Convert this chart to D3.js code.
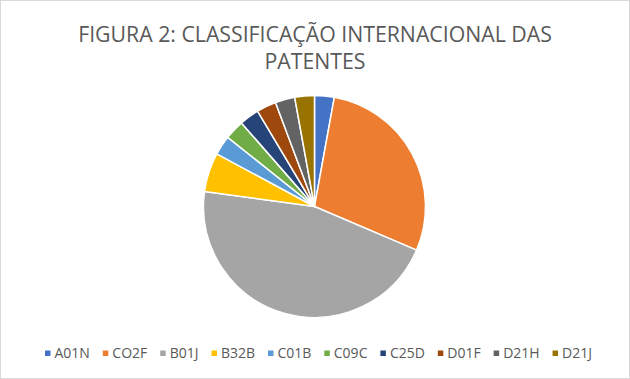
<!DOCTYPE html>
<html>
<head>
<meta charset="utf-8">
<script src="https://cdn.jsdelivr.net/npm/d3@7/dist/d3.min.js"></script>
<style>
  body { margin: 0; background: #fff; }
  svg { display: block; }
</style>
</head>
<body>
<div id="chart"></div>
<script>
// values
var categories = ["A01N", "CO2F", "B01J", "B32B", "C01B", "C09C", "C25D", "D01F", "D21H", "D21J"];
var counts = [1, 10, 16, 2, 1, 1, 1, 1, 1, 1];
var colors = ["#4472C4", "#ED7D31", "#A5A5A5", "#FFC000", "#5B9BD5", "#70AD47", "#264478", "#9E480E", "#636363", "#997300"];
var titleLines = ["FIGURA 2: CLASSIFICAÇÃO INTERNACIONAL DAS", "PATENTES"];

var width = 630, height = 379;
var font = "'Open Sans', 'Noto Sans', sans-serif";

var svg = d3.select("#chart")
    .append("svg")
      .attr("width", width)
      .attr("height", height);

svg.append("rect")
    .attr("x", 0.5)
    .attr("y", 0.5)
    .attr("width", width - 1)
    .attr("height", height - 1)
    .attr("fill", "#fff")
    .attr("stroke", "#d9d9d9");

// title, font size tuned so line 1 spans roughly the same width as the reference
var title = svg.append("g").attr("class", "title");
var t1 = title.append("text")
    .attr("x", width / 2)
    .attr("y", 42)
    .attr("text-anchor", "middle")
    .style("font-family", font)
    .style("font-size", "20px")
    .attr("fill", "#595959")
    .text(titleLines[0]);
var fs = 20 * 474 / t1.node().getComputedTextLength();
t1.style("font-size", fs + "px");
title.append("text")
    .attr("x", width / 2)
    .attr("y", 69)
    .attr("text-anchor", "middle")
    .style("font-family", font)
    .style("font-size", fs + "px")
    .attr("fill", "#595959")
    .text(titleLines[1]);

// pie
var radius = 111;
var g = svg.append("g")
    .attr("transform", "translate(" + 314.5 + "," + 206.5 + ")");

var pie = d3.pie().sort(null).value(function(d) { return d; });
var arc = d3.arc().innerRadius(0).outerRadius(radius);

g.selectAll("path")
    .data(pie(counts))
  .enter().append("path")
    .attr("d", arc)
    .attr("fill", function(d, i) { return colors[i]; })
    .attr("stroke", "#fff")
    .attr("stroke-width", 1.5)
    .attr("stroke-linejoin", "round");

// legend, spread over the same span as the reference (x 45 -> 592)
var legend = svg.append("g").attr("class", "legend");
var items = legend.selectAll("g")
    .data(categories)
  .enter().append("g");

items.append("rect")
    .attr("width", 5.5)
    .attr("height", 5.5)
    .attr("y", -7)
    .attr("fill", function(d, i) { return colors[i]; });

items.append("text")
    .attr("x", 9.5)
    .style("font-family", font)
    .style("font-size", "14px")
    .attr("fill", "#595959")
    .text(function(d) { return d; });

var widths = [];
items.each(function() {
  widths.push(9.5 + d3.select(this).select("text").node().getComputedTextLength());
});
var left = 45, right = 592;
var gap = (right - left - d3.sum(widths)) / (widths.length - 1);
var xpos = left;
items.attr("transform", function(d, i) {
  var x = xpos;
  xpos += widths[i] + gap;
  return "translate(" + x + "," + 357.5 + ")";
});
</script>
</body>
</html>
